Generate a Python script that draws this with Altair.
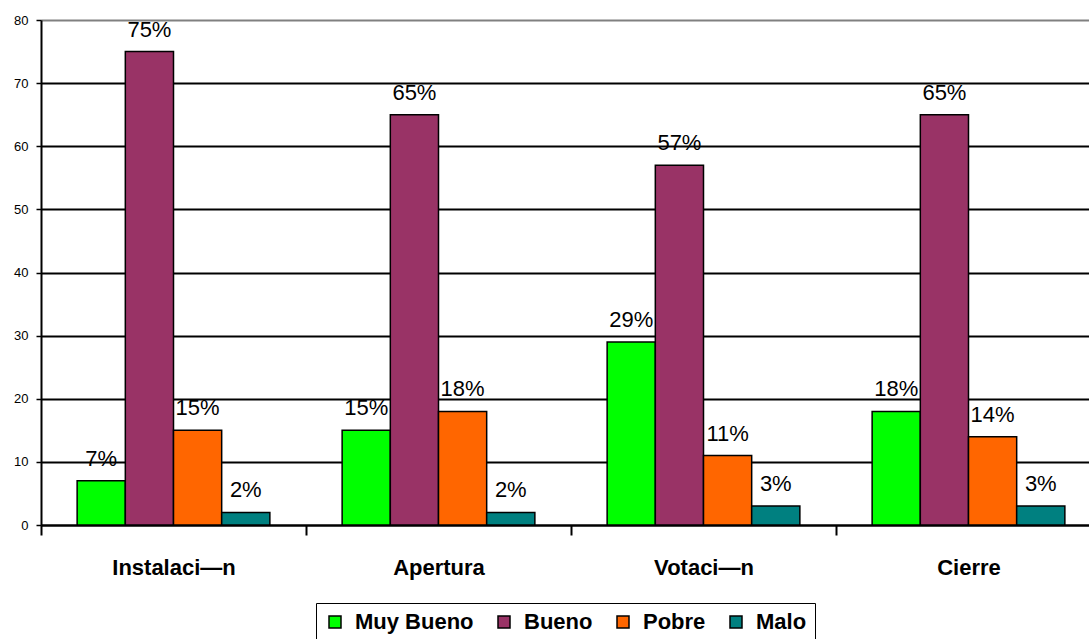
import altair as alt
import pandas as pd

# Survey ratings per stage of the voting day (percent of responses)
stages = ["Instalaci—n", "Apertura", "Votaci—n", "Cierre"]
ratings = ["Muy Bueno", "Bueno", "Pobre", "Malo"]
muy_bueno = [7, 15, 29, 18]
bueno = [75, 65, 57, 65]
pobre = [15, 18, 11, 14]
malo = [2, 2, 3, 3]
rating_colors = ["#00FF00", "#993366", "#FF6600", "#008080"]

rows = []
for series, vals in zip(ratings, [muy_bueno, bueno, pobre, malo]):
    for stage, v in zip(stages, vals):
        rows.append({"etapa": stage, "calificacion": series, "valor": v,
                     "texto": f"{v}%"})
df = pd.DataFrame(rows)

FONT = "Liberation Sans, Arial, sans-serif"

x_enc = alt.X(
    "etapa:N", sort=stages, title=None,
    scale=alt.Scale(range=[0, 1060], paddingInner=0, paddingOuter=0),
    axis=alt.Axis(
        labelAngle=0, labelFontSize=22, labelFontWeight="bold", labelFont=FONT,
        labelColor="black", labelPadding=22, tickSize=10, tickBand="extent",
        tickColor="black", tickWidth=2, domainColor="black", domainWidth=2,
        grid=False,
    ),
)
xoff_enc = alt.XOffset(
    "calificacion:N", sort=ratings,
    scale=alt.Scale(paddingOuter=0.75, paddingInner=0),
)

bars = alt.Chart(df).mark_bar(stroke="black", strokeWidth=1.5).encode(
    x=x_enc,
    xOffset=xoff_enc,
    y=alt.Y(
        "valor:Q", title=None,
        scale=alt.Scale(domain=[0, 80], nice=False),
        axis=alt.Axis(
            values=list(range(0, 81, 10)), labelFontSize=13, labelFont=FONT,
            labelColor="black", labelPadding=8, tickSize=5, tickColor="black",
            tickWidth=1.5, domainColor="black", domainWidth=2,
            gridColor={"condition": {"test": "datum.value === 80", "value": "#808080"},
                       "value": "#000000"},
            gridWidth=1.8,
        ),
    ),
    color=alt.Color(
        "calificacion:N", sort=ratings,
        scale=alt.Scale(domain=ratings, range=rating_colors),
        legend=alt.Legend(
            title=None, orient="none", legendX=275, legendY=583,
            direction="horizontal", columns=4, labelFontSize=22,
            labelFontWeight="bold", labelFont=FONT, labelColor="black",
            symbolType="square", symbolSize=144, symbolStrokeColor="black",
            symbolStrokeWidth=1.5, symbolOpacity=1, labelOffset=9,
            columnPadding=19, padding=8, strokeColor="black",
        ),
    ),
)

labels = alt.Chart(df).mark_text(
    fontSize=22, font=FONT, color="black", baseline="alphabetic", dy=-15,
).encode(
    x=alt.X("etapa:N", sort=stages),
    xOffset=alt.XOffset("calificacion:N", sort=ratings),
    y="valor:Q",
    text="texto:N",
)

chart = (
    alt.layer(bars, labels)
    .properties(width=1048, height=505,
                autosize=alt.AutoSizeParams(type="none"),
                padding={"left": 41, "top": 20, "right": 0, "bottom": 114})
    .configure_view(stroke=None)
    .configure(background="white")
)

chart.save("out.html", embed_options={"renderer": "svg", "actions": False})
